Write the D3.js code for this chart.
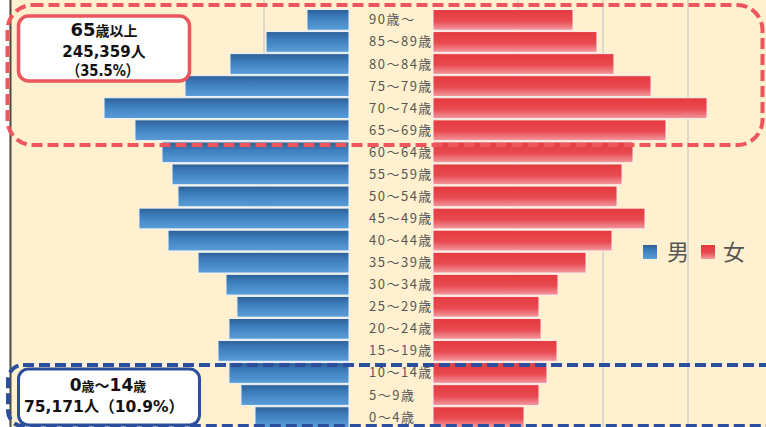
<!DOCTYPE html>
<html>
<head>
<meta charset="utf-8">
<script src="https://cdn.jsdelivr.net/npm/d3@7"></script>
<style>
  body { margin: 0; background: #fff; }
  svg { display: block; }
</style>
</head>
<body>
<svg id="chart"></svg>
<script>
// age groups, top to bottom
var ageLabels = ["90歳～","85～89歳","80～84歳","75～79歳","70～74歳","65～69歳",
  "60～64歳","55～59歳","50～54歳","45～49歳","40～44歳","35～39歳","30～34歳",
  "25～29歳","20～24歳","15～19歳","10～14歳","5～9歳","0～4歳"];

// persons
var male = [4940, 9760, 14000, 19290, 28820, 25180, 22000, 20820, 20120, 24710,
  21290, 17760, 14470, 13180, 14120, 15410, 14120, 12710, 11060];
var female = [16470, 19290, 21290, 25650, 32240, 27410, 23530, 22240, 21650, 24940,
  21060, 18000, 14710, 12470, 12710, 14590, 13410, 12470, 10710];

var legendLabels = ["男", "女"];
var maleGrid = [10000];
var femaleGrid = [10000, 20000, 30000];

var W = 766, H = 427;

var svg = d3.select("#chart").attr("width", W).attr("height", H);

var defs = svg.append("defs");
var gB = defs.append("linearGradient").attr("id", "gBlue")
  .attr("x1", 0).attr("y1", 0).attr("x2", 0).attr("y2", 1);
gB.append("stop").attr("offset", "0%").attr("stop-color", "#2d5f95");
gB.append("stop").attr("offset", "35%").attr("stop-color", "#3c7cbb");
gB.append("stop").attr("offset", "100%").attr("stop-color", "#5a9ed9");
var gR = defs.append("linearGradient").attr("id", "gRed")
  .attr("x1", 0).attr("y1", 0).attr("x2", 0).attr("y2", 1);
gR.append("stop").attr("offset", "0%").attr("stop-color", "#e53a3e");
gR.append("stop").attr("offset", "55%").attr("stop-color", "#e84a50");
gR.append("stop").attr("offset", "100%").attr("stop-color", "#f39aa0");

// background
svg.append("rect").attr("x", 9).attr("y", 0).attr("width", W - 9).attr("height", H)
  .style("fill", "#fff1cf");

var xM = d3.scaleLinear().domain([0, 40000]).range([349, 9]);
var xF = d3.scaleLinear().domain([0, 40000]).range([433, 773]);
var y = d3.scaleBand().domain(ageLabels).range([9.5, 427.5]).paddingInner(0.06);

// grid
svg.selectAll(".gm").data(maleGrid).enter().append("line")
  .attr("x1", function(d) { return xM(d); }).attr("x2", function(d) { return xM(d); })
  .attr("y1", 0).attr("y2", H)
  .style("stroke", "#dcd8d0").style("stroke-width", 2);
svg.selectAll(".gf").data(femaleGrid).enter().append("line")
  .attr("x1", function(d) { return xF(d); }).attr("x2", function(d) { return xF(d); })
  .attr("y1", 0).attr("y2", H)
  .style("stroke", "#dcd8d0").style("stroke-width", 2);

// left axis line
svg.append("line").attr("x1", 10.5).attr("x2", 10.5).attr("y1", 0).attr("y2", H)
  .style("stroke", "#4a4a4a").style("stroke-width", 2);

// bars
svg.selectAll(".bm").data(male).enter().append("rect")
  .attr("x", function(d) { return xM(d); })
  .attr("y", function(d, i) { return y(ageLabels[i]); })
  .attr("width", function(d) { return xM(0) - xM(d); })
  .attr("height", y.bandwidth())
  .style("fill", "url(#gBlue)")
  .style("stroke", "#eef3f8").style("stroke-width", 1);

svg.selectAll(".bf").data(female).enter().append("rect")
  .attr("x", xF(0))
  .attr("y", function(d, i) { return y(ageLabels[i]); })
  .attr("width", function(d) { return xF(d) - xF(0); })
  .attr("height", y.bandwidth())
  .style("fill", "url(#gRed)")
  .style("stroke", "#fbeeee").style("stroke-width", 1);

// age labels
svg.selectAll(".lab").data(ageLabels).enter().append("text")
  .attr("x", 369)
  .attr("y", function(d) { return y(d) + y.bandwidth() / 2 + 4.5; })
  .style("font-family", "'Noto Sans CJK JP', sans-serif")
  .style("font-size", "13px")
  .style("letter-spacing", "1.5px")
  .style("fill", "#555")
  .text(function(d) { return d; });

// legend
var legend = svg.append("g");
var legX = [643, 701], legTx = [667, 723], legFill = ["url(#gBlue)", "url(#gRed)"];
legendLabels.forEach(function(t, i) {
  legend.append("rect").attr("x", legX[i]).attr("y", 245)
    .attr("width", 14).attr("height", 14)
    .style("fill", legFill[i]);
  legend.append("text").attr("x", legTx[i]).attr("y", 260)
    .style("font-family", "'Noto Sans CJK JP', sans-serif")
    .style("font-size", "22px")
    .style("fill", "#555")
    .text(t);
});

// highlight frames
svg.append("rect").attr("x", 7.5).attr("y", 5).attr("width", 755).attr("height", 140)
  .attr("rx", 25)
  .style("fill", "none").style("stroke", "#ec565c").style("stroke-width", 4)
  .style("stroke-dasharray", "11,5");

svg.append("rect").attr("x", 8).attr("y", 365).attr("width", 800).attr("height", 61)
  .attr("rx", 15)
  .style("fill", "none").style("stroke", "#2b4f9e").style("stroke-width", 4)
  .style("stroke-dasharray", "11,5");

var font = "'DejaVu Sans', 'Noto Sans CJK JP', sans-serif";

function boxText(x, yy, size) {
  return svg.append("text").attr("x", x).attr("y", yy)
    .attr("text-anchor", "middle")
    .style("font-family", font).style("font-weight", 700).style("fill", "#111")
    .style("font-size", size + "px");
}

// 65+ box
svg.append("rect").attr("x", 18.5).attr("y", 16).attr("width", 171).attr("height", 65)
  .attr("rx", 10)
  .style("fill", "#fff").style("stroke", "#ec565c").style("stroke-width", 3.5);

var t1 = boxText(104, 36, 18);
t1.append("tspan").text("65");
t1.append("tspan").style("font-size", "14px").text("歳以上");

boxText(104, 57, 15).text("245,359人");
boxText(103, 76, 15.5).text("（35.5%）")
  .attr("textLength", 72).attr("lengthAdjust", "spacingAndGlyphs");

// 0-14 box
svg.append("rect").attr("x", 18.5).attr("y", 369).attr("width", 181).attr("height", 56)
  .attr("rx", 10)
  .style("fill", "#fff").style("stroke", "#2b4f9e").style("stroke-width", 3);

var t2 = boxText(108, 391, 17);
t2.append("tspan").text("0");
t2.append("tspan").style("font-size", "13px").text("歳");
t2.append("tspan").style("font-size", "15px").text("～");
t2.append("tspan").text("14");
t2.append("tspan").style("font-size", "13px").text("歳");

boxText(104, 412, 15.5).text("75,171人（10.9%）");
</script>
</body>
</html>
